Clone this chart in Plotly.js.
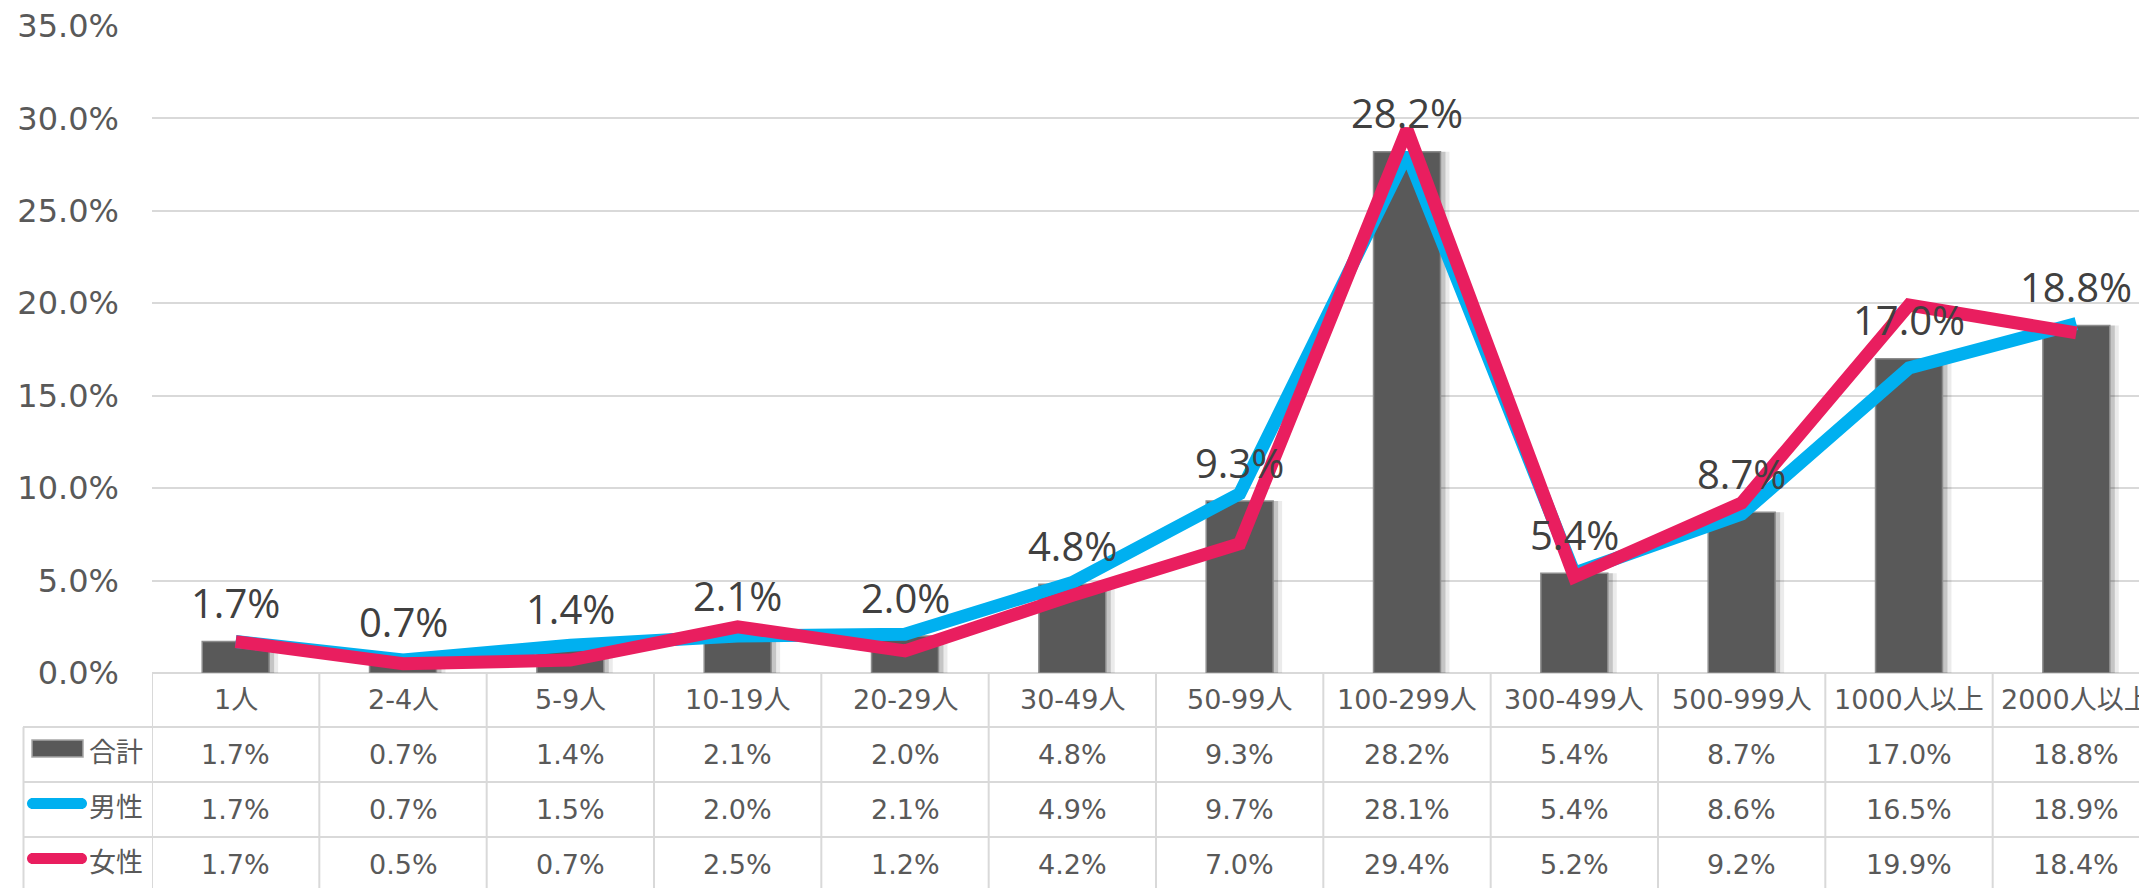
<!DOCTYPE html>
<html>
<head>
<meta charset="utf-8">
<script src="https://cdn.plot.ly/plotly-3.0.1.min.js"></script>
<style>
  html, body { margin: 0; padding: 0; background: #ffffff; overflow: hidden; }
  #chart { width: 2170px; height: 888px; }
</style>
</head>
<body>
<div id="chart"></div>
<script>
// ---- data ----
const categories = ['1人', '2-4人', '5-9人', '10-19人', '20-29人', '30-49人', '50-99人', '100-299人', '300-499人', '500-999人', '1000人以上', '2000人以上'];
const seriesNames = ['合計', '男性', '女性'];
const totalValues  = [1.7, 0.7, 1.4, 2.1, 2.0, 4.8, 9.3, 28.2, 5.4, 8.7, 17.0, 18.8];
const maleValues   = [1.7, 0.7, 1.5, 2.0, 2.1, 4.9, 9.7, 28.1, 5.4, 8.6, 16.5, 18.9];
const femaleValues = [1.7, 0.5, 0.7, 2.5, 1.2, 4.2, 7.0, 29.4, 5.2, 9.2, 19.9, 18.4];
const yTicks = [0, 5, 10, 15, 20, 25, 30, 35];
const yTickLabels = ['0.0%', '5.0%', '10.0%', '15.0%', '20.0%', '25.0%', '30.0%', '35.0%'];

// ---- geometry / style ----
const W = 2170, H = 888;
const M = { l: 152, r: 10, t: 26, b: 215 };
const PW = W - M.l - M.r, PH = H - M.t - M.b;
const px2x = px => (px - M.l) / PW;
const px2y = py => (M.t + PH - py) / PH;

const GRID = '#d9d9d9';
const TEXT = '#595959';
const FONT = 'DejaVu Sans, "Noto Sans CJK JP", sans-serif';
const BARW = 0.4;
const colors = { total: '#595959', male: '#00B0F0', female: '#E91E5F' };

// table rows (pixel y)
const rowTop = [673, 727, 782, 837, 892];
const rowCenter = [700, 754.5, 809.5, 864.5];

const traces = [];
// bar shadows (soft right-hand shadow)
[[5, 'rgba(0,0,0,0.16)'], [9, 'rgba(0,0,0,0.08)']].forEach(([shift, c]) => {
  traces.push({
    type: 'bar', x: categories, y: totalValues, width: BARW,
    offset: -BARW / 2 + shift / (PW / categories.length),
    marker: { color: c, line: { width: 0 } }, hoverinfo: 'skip', showlegend: false
  });
});
traces.push({
  type: 'bar', name: seriesNames[0], x: categories, y: totalValues, width: BARW, offset: -BARW / 2,
  marker: { color: colors.total, line: { color: '#8c8c8c', width: 1.5 } }, showlegend: false
});
traces.push({
  type: 'scatter', mode: 'lines', name: seriesNames[1], x: categories, y: maleValues,
  line: { color: colors.male, width: 13 }, showlegend: false
});
traces.push({
  type: 'scatter', mode: 'lines', name: seriesNames[2], x: categories, y: femaleValues,
  line: { color: colors.female, width: 13 }, showlegend: false
});

const annotations = [];
// data labels for 合計
categories.forEach((c, i) => {
  annotations.push({
    x: c, y: totalValues[i], xref: 'x', yref: 'y', yshift: 39,
    text: totalValues[i].toFixed(1) + '%', showarrow: false,
    xanchor: 'center', yanchor: 'middle',
    font: { family: '"Open Sans", sans-serif', size: 40, color: '#404040' }
  });
});
// table header
categories.forEach((c, i) => {
  annotations.push({
    x: c, y: px2y(rowCenter[0]), xref: 'x', yref: 'paper', text: c, showarrow: false,
    xanchor: 'center', yanchor: 'middle', font: { family: FONT, size: 27, color: TEXT }
  });
});
// table values
const rows = [totalValues, maleValues, femaleValues];
rows.forEach((vals, r) => {
  vals.forEach((v, i) => {
    annotations.push({
      x: categories[i], y: px2y(rowCenter[r + 1]), xref: 'x', yref: 'paper',
      text: v.toFixed(1) + '%', showarrow: false, xanchor: 'center', yanchor: 'middle',
      font: { family: FONT, size: 27, color: TEXT }
    });
  });
  annotations.push({
    x: px2x(116), y: px2y(rowCenter[r + 1] - 2), xref: 'paper', yref: 'paper',
    text: seriesNames[r], showarrow: false, xanchor: 'center', yanchor: 'middle',
    font: { family: FONT, size: 27, color: TEXT }
  });
});

const shapes = [];
const lineStyle = { color: GRID, width: 2 };
for (let k = 0; k <= categories.length; k++) {
  shapes.push({ type: 'line', xref: 'x', yref: 'paper', x0: k - 0.5, x1: k - 0.5,
    y0: px2y(rowTop[0]), y1: px2y(rowTop[4]), line: lineStyle, layer: 'above' });
}
for (let r = 1; r <= 3; r++) {
  shapes.push({ type: 'line', xref: 'paper', yref: 'paper', x0: px2x(23), x1: 1.02,
    y0: px2y(rowTop[r]), y1: px2y(rowTop[r]), line: lineStyle });
}
shapes.push({ type: 'line', xref: 'paper', yref: 'paper', x0: px2x(23.5), x1: px2x(23.5),
  y0: px2y(rowTop[1]), y1: px2y(rowTop[4]), line: lineStyle });
shapes.push({ type: 'rect', xref: 'paper', yref: 'paper',
  x0: px2x(32), x1: px2x(83), y0: px2y(740), y1: px2y(757),
  fillcolor: colors.total, line: { color: '#a6a6a6', width: 1.5 } });
const capsule = 'M -24.5,-5.5 L 24.5,-5.5 C 27.5,-5.5 30,-3 30,0 C 30,3 27.5,5.5 24.5,5.5 L -24.5,5.5 C -27.5,5.5 -30,3 -30,0 C -30,-3 -27.5,-5.5 -24.5,-5.5 Z';
[[803.5, colors.male], [858.5, colors.female]].forEach(([cy, col]) => {
  shapes.push({ type: 'path', xref: 'paper', yref: 'paper',
    xsizemode: 'pixel', ysizemode: 'pixel', xanchor: px2x(57), yanchor: px2y(cy),
    path: capsule, fillcolor: col, line: { width: 0 } });
});

const layout = {
  width: W, height: H, margin: M,
  paper_bgcolor: '#ffffff', plot_bgcolor: '#ffffff',
  barmode: 'overlay', showlegend: false,
  xaxis: { type: 'category', range: [-0.5, categories.length - 0.5], showticklabels: false,
    showgrid: false, zeroline: false, showline: false, ticks: '', fixedrange: true },
  yaxis: { range: [0, 35], tickmode: 'array', tickvals: yTicks, ticktext: yTickLabels,
    showgrid: true, gridcolor: GRID, gridwidth: 2, zeroline: true, zerolinecolor: GRID, zerolinewidth: 2,
    showline: false, ticks: '', ticklabelstandoff: 32,
    tickfont: { family: FONT, size: 32, color: TEXT }, fixedrange: true },
  annotations: annotations, shapes: shapes
};

Plotly.newPlot('chart', traces, layout, { displayModeBar: false, staticPlot: true });
</script>
</body>
</html>
